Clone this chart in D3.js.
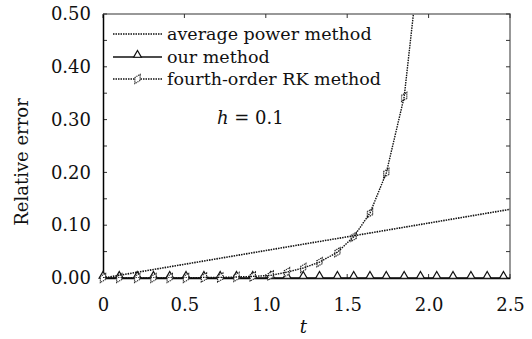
<!DOCTYPE html>
<html>
<head>
<meta charset="utf-8">
<script src="https://cdn.jsdelivr.net/npm/d3@7"></script>
<style>
  body { margin: 0; background: #fff; }
  text { font-family: "DejaVu Serif", serif; fill: #111; }
</style>
</head>
<body>
<div id="chart"></div>
<script>
// data
var avgT = [0, 0.5, 1.0, 1.5, 2.0, 2.5];
var avgErr = [0, 0.026, 0.052, 0.078, 0.104, 0.13];

var oursT = [0, 0.10, 0.21, 0.31, 0.41, 0.51, 0.62, 0.72, 0.82, 0.92, 1.03, 1.13, 1.23,
    1.33, 1.44, 1.54, 1.64, 1.74, 1.85, 1.95, 2.05, 2.15, 2.26, 2.36, 2.46];
var oursErr = oursT.map(function () { return 0; });

var rkT = [0, 0.10, 0.21, 0.31, 0.41, 0.51, 0.62, 0.72, 0.82, 0.92, 1.03, 1.13, 1.23,
    1.33, 1.44, 1.54, 1.64, 1.74, 1.85, 1.95];
var rkErr = [0, 0, 0, 0, 0, 0, 0.001, 0.001, 0.002, 0.003, 0.005, 0.011, 0.019,
    0.030, 0.049, 0.078, 0.123, 0.199, 0.343, 0.62];

var xTicks = [0, 0.5, 1.0, 1.5, 2.0, 2.5];
var xTickLabels = ["0", "0.5", "1.0", "1.5", "2.0", "2.5"];
var yTicks = [0, 0.1, 0.2, 0.3, 0.4, 0.5];
var legendNames = ["average power method", "our method", "fourth-order RK method"];

var svgWidth = 532;
var svgHeight = 339;
var margin = { top: 14, right: 22, bottom: 61, left: 103 };
var width = svgWidth - margin.left - margin.right;
var height = svgHeight - margin.top - margin.bottom;

var svg = d3.select("#chart").append("svg")
    .attr("width", svgWidth)
    .attr("height", svgHeight);

var chartGroup = svg.append("g")
    .attr("transform", `translate(${margin.left}, ${margin.top})`);

var x = d3.scaleLinear().domain([0, 2.5]).range([0, width]);
var y = d3.scaleLinear().domain([0, 0.5]).range([height, 0]);

svg.append("clipPath").attr("id", "clip")
    .append("rect").attr("x", -6).attr("width", width + 6).attr("height", height + 6);
svg.append("clipPath").attr("id", "clip2")
    .append("rect").attr("width", width).attr("height", height);

// frame: top and right gray
chartGroup.append("path")
    .attr("d", `M0,0H${width}V${height}`)
    .attr("fill", "none")
    .attr("stroke", "#777")
    .attr("stroke-width", 1.5);

// minor and major ticks, inward
var yMinor = d3.range(0, 0.501, 0.05);
var tickG = chartGroup.append("g").attr("stroke", "#333").attr("stroke-width", 1);
yMinor.forEach(function (v) {
    tickG.append("line").attr("x1", 0).attr("x2", 4).attr("y1", y(v)).attr("y2", y(v));
    tickG.append("line").attr("x1", width - 4).attr("x2", width).attr("y1", y(v)).attr("y2", y(v));
});
xTicks.forEach(function (v) {
    tickG.append("line").attr("x1", x(v)).attr("x2", x(v)).attr("y1", 0).attr("y2", 4);
    tickG.append("line").attr("x1", x(v)).attr("x2", x(v)).attr("y1", height - 4).attr("y2", height);
});

// axes
var bottomAxis = d3.axisBottom(x).tickValues(xTicks)
    .tickFormat(function (d, i) { return xTickLabels[i]; })
    .tickSize(0).tickPadding(20);
var leftAxis = d3.axisLeft(y).tickValues(yTicks)
    .tickFormat(d3.format(".2f"))
    .tickSize(0).tickPadding(12);

var xAxis = chartGroup.append("g")
    .attr("transform", `translate(0, ${height})`)
    .call(bottomAxis);
var yAxis = chartGroup.append("g").call(leftAxis);

[xAxis, yAxis].forEach(function (a) {
    a.select(".domain").attr("stroke", "#000").attr("stroke-width", 1.5);
    a.selectAll("text").style("font-family", "DejaVu Serif").style("font-size", "18px").attr("fill", "#111");
});

// lines
var plotG = chartGroup.append("g").attr("clip-path", "url(#clip)");
var linesG = chartGroup.append("g").attr("clip-path", "url(#clip2)");
var line = d3.line().x(d => x(d[0])).y(d => y(d[1]));

var avgData = avgT.map((t, i) => [t, avgErr[i]]);
var oursData = oursT.map((t, i) => [t, oursErr[i]]);
var rkData = rkT.map((t, i) => [t, rkErr[i]]);

linesG.append("path").datum(avgData)
    .attr("d", line).attr("fill", "none")
    .attr("stroke", "#111").attr("stroke-width", 1.6).attr("stroke-dasharray", "1.5,1");

linesG.append("path").datum(rkData)
    .attr("d", line).attr("fill", "none")
    .attr("stroke", "#111").attr("stroke-width", 1.4).attr("stroke-dasharray", "1.5,1");

plotG.append("path").datum(oursData)
    .attr("d", line).attr("fill", "none")
    .attr("stroke", "#111").attr("stroke-width", 1.3);

// markers
var diamond = d3.symbol().type(d3.symbolDiamond).size(32);
var triangle = d3.symbol().type(d3.symbolTriangle).size(26);

plotG.selectAll(".ours").data(oursData).enter()
    .append("path").attr("class", "ours")
    .attr("transform", d => `translate(${x(d[0])},${y(d[1]) - 2})`)
    .attr("d", triangle)
    .attr("fill", "#fff").attr("stroke", "#111").attr("stroke-width", 1.2);

plotG.selectAll(".rk").data(rkData.filter(d => d[1] <= 0.5)).enter()
    .append("path").attr("class", "rk")
    .attr("transform", d => `translate(${x(d[0])},${y(d[1])}) rotate(30)`)
    .attr("d", diamond)
    .attr("fill", "#fff").attr("stroke", "#222").attr("stroke-width", 1.2)
    .attr("stroke-dasharray", "1.2,0.8");

// legend
var legend = chartGroup.append("g").attr("transform", "translate(10, 0)");
var legendY = [20, 43, 65];
legendNames.forEach(function (name, i) {
    var g = legend.append("g").attr("transform", `translate(0, ${legendY[i]})`);
    var ln = g.append("line").attr("x1", 0).attr("x2", 49).attr("y1", 0).attr("y2", 0)
        .attr("stroke", "#111").attr("stroke-width", 1.4);
    if (i !== 1) ln.attr("stroke-dasharray", "1.5,1");
    if (i === 1) {
        g.append("path").attr("d", triangle).attr("transform", "translate(24.5,-2)")
            .attr("fill", "#fff").attr("stroke", "#111").attr("stroke-width", 1.2);
    }
    if (i === 2) {
        g.append("path").attr("d", diamond).attr("transform", "translate(24.5,0) rotate(30)")
            .attr("fill", "#fff").attr("stroke", "#222").attr("stroke-width", 1.2)
            .attr("stroke-dasharray", "1.2,0.8");
    }
    g.append("text").attr("x", 54).attr("y", 0).attr("dy", "0.32em")
        .style("font-size", "17.5px").text(name);
});

chartGroup.append("text")
    .attr("x", 114).attr("y", 110)
    .style("font-size", "18px")
    .html('<tspan font-style="italic">h</tspan> = 0.1');

// axis titles
chartGroup.append("text")
    .attr("transform", "rotate(-90)")
    .attr("x", 0 - 148).attr("y", 0 - margin.left + 28)
    .attr("text-anchor", "middle")
    .style("font-size", "18px")
    .text("Relative error");

chartGroup.append("text")
    .attr("x", x(1.23)).attr("y", height + 55)
    .attr("text-anchor", "middle")
    .style("font-size", "18px").style("font-style", "italic")
    .text("t");
</script>
</body>
</html>
